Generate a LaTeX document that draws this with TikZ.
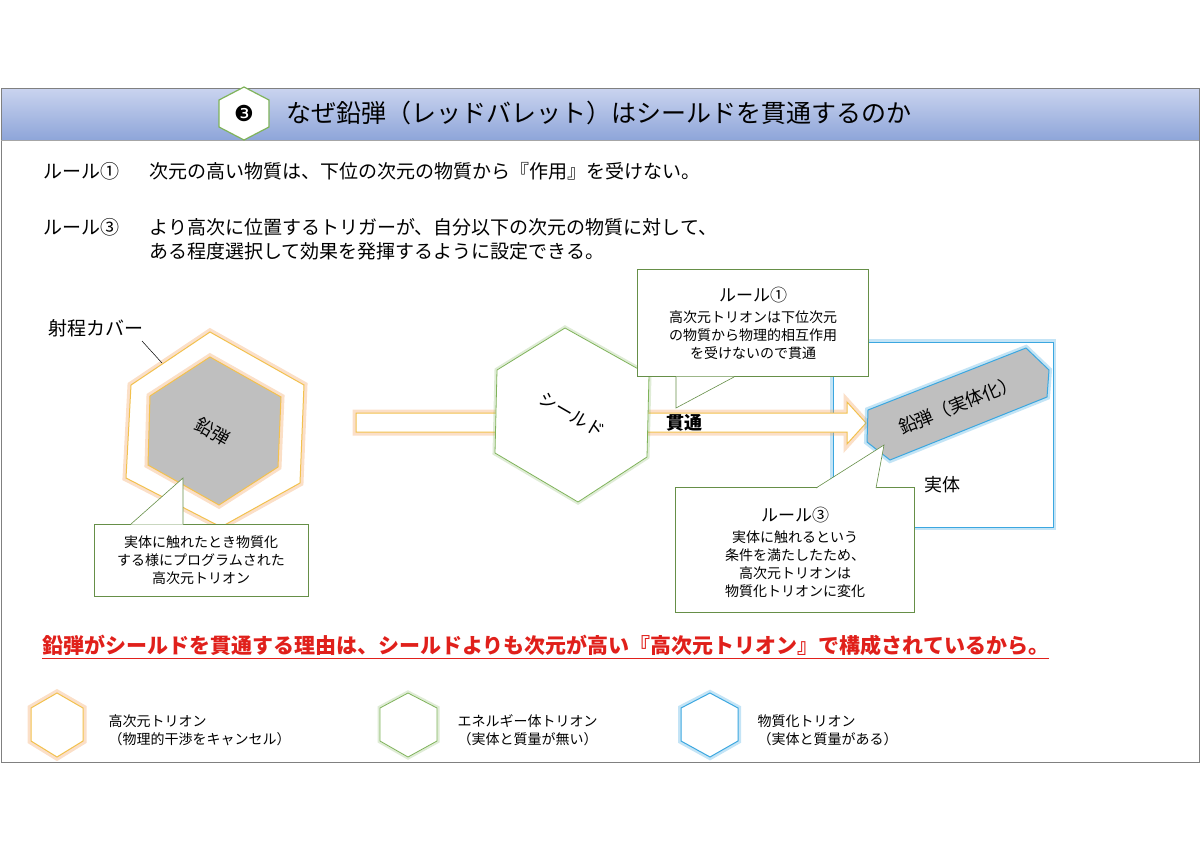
\documentclass[tikz,border=0pt]{standalone}
\usepackage{fontspec}
\setmainfont{Noto Sans CJK JP}
\newfontfamily\dingfont{DejaVu Sans}
\usetikzlibrary{positioning}
\definecolor{hdtop}{HTML}{CAD4EF}
\definecolor{hdbot}{HTML}{8EA5D9}
\definecolor{goldline}{HTML}{F2C14E}
\definecolor{orglow}{HTML}{F4A460}
\definecolor{grline}{HTML}{7FB35A}
\definecolor{blline}{HTML}{3BA7E0}
\definecolor{bulgray}{HTML}{BFBFBF}
\definecolor{redtxt}{HTML}{E0201B}
\newcommand{\fsz}[1]{\fontsize{#1pt}{\numexpr#1*5/4\relax pt}\selectfont}
\tikzset{
  glowO/.style={draw=goldline, line width=1pt, preaction={draw=orglow, line width=7pt, opacity=0.35}},
  glowG/.style={draw=grline, line width=0.8pt, preaction={draw=grline, line width=5pt, opacity=0.25}},
  glowB/.style={draw=blline, line width=1pt, preaction={draw=blline, line width=6pt, opacity=0.3}},
  callout/.style={draw=grline!80!black, line width=0.6pt, fill=white},
  boxtxt/.style={align=center, font=\fsz{14}, inner sep=0pt},
  legtxt/.style={anchor=west, align=left, font=\fsz{14}}
}
\begin{document}
\begin{tikzpicture}[x=1pt,y=-1pt]
\useasboundingbox (0,0) rectangle (1200,849);
% header and frame
\shade[top color=hdtop, bottom color=hdbot] (1,88) rectangle (1199,140);
\draw[gray, line width=1pt] (1,88) rectangle (1199,762);
\draw[gray!70, line width=0.8pt] (1,140) -- (1199,140);
\filldraw[fill=white, draw=grline, line width=1.2pt] (244,87) -- (269,100) -- (269,127) -- (244,140) -- (219,127) -- (219,100) -- cycle;
\node (badge) at (244,113.5) {\dingfont\fsz{22}❸};
\node (title) at (599,113) {\fsz{25}なぜ鉛弾（レッドバレット）はシールドを貫通するのか};

% rules
\node[anchor=west] (r1) at (40,171) {\fsz{19}ルール①};
\node[anchor=west] (r1t) at (146,171) {\fsz{19}次元の高い物質は、下位の次元の物質から『作用』を受けない。};
\node[anchor=west] (r3) at (40,227) {\fsz{19}ルール③};
\node[anchor=west] (r3t) at (146,227) {\fsz{19}より高次に位置するトリガーが、自分以下の次元の物質に対して、};
\node[anchor=west] (r3u) at (146,251) {\fsz{19}ある程度選択して効果を発揮するように設定できる。};

% left bullet
\filldraw[fill=white, glowO] (210,332) -- (304,385) -- (300,483) -- (221,527) -- (126,478) -- (131,385) -- cycle;
\filldraw[fill=bulgray, glowO] (210,357) -- (281,397) -- (278,467) -- (219,505) -- (148,465) -- (150,396) -- cycle;
\node[rotate=-30] (lead) at (213,432) {\fsz{18}鉛弾};
\node (cover) at (96,328) {\fsz{19}射程カバー};
\coordinate (cv) at (162,363);
\draw[black, line width=0.5pt] (142,341) -- (cv);

% entity box, arrow, shield
\draw[glowB, fill=white] (833,342) rectangle (1053,527);
\filldraw[fill=white, glowO] (356,413) -- (847,413) -- (847,402) -- (866,423) -- (847,444) -- (847,432) -- (356,432) -- cycle;
\filldraw[fill=white, glowG] (565,328) -- (649,375) -- (647,457) -- (578,502) -- (495,453) -- (497,370) -- cycle;
\node[rotate=-30] (shield) at (572,415) {\fsz{18}シールド};
\node (pierce) at (684,423) {\fsz{18}\bfseries 貫通};
\filldraw[fill=bulgray, glowB] (868,410) -- (1026,348) -- (1049,370) -- (1047,397) -- (890,460) -- (867,442) -- cycle;
\node[rotate=22] (leadx) at (958,405) {\fsz{18}鉛弾（実体化）};
\node (entity) at (942,485) {\fsz{18}実体};

% callouts
\node[callout, minimum width=214pt, minimum height=72pt] (c1) at (201,560) {};
\coordinate (p1) at (183,478);
\fill[white] (131,524.5) -- (p1) -- (183,524.5) -- cycle;
\draw[callout, fill=none] (131,524) -- (p1) -- (183,524);
\node[boxtxt] at (c1) {実体に触れたとき物質化\\する様にプログラムされた\\高次元トリオン};

\node[callout, minimum width=231pt, minimum height=107pt] (c2) at (753,323) {};
\coordinate (p2) at (676,408);
\fill[white] (676,376.5) -- (p2) -- (734,376.5) -- cycle;
\draw[callout, fill=none] (676,377) -- (p2) -- (734,377);
\node[boxtxt] at (753,323) {{\fsz{17}ルール①}\\[3pt]高次元トリオンは下位次元\\の物質から物理的相互作用\\を受けないので貫通};

\node[callout, minimum width=239pt, minimum height=125pt] (c3) at (795,550) {};
\coordinate (p3) at (884,445);
\fill[white] (816,488.5) -- (p3) -- (876,488.5) -- cycle;
\draw[callout, fill=none] (816,488) -- (p3) -- (876,488);
\node[boxtxt] at (795,552) {{\fsz{17}ルール③}\\[3pt]実体に触れるという\\条件を満たしたため、\\高次元トリオンは\\物質化トリオンに変化};

% conclusion
\node[anchor=west, text=redtxt, inner sep=0pt] (concl) at (42,645) {\fsz{21}\bfseries 鉛弾がシールドを貫通する理由は、シールドよりも次元が高い『高次元トリオン』で構成されているから。};
\draw[redtxt, line width=1.5pt] ([yshift=-3pt]concl.south west) -- ([yshift=-3pt]concl.south east);

% legend
\filldraw[fill=white, glowO] (57,693) -- (83,708) -- (83,741) -- (57,757) -- (31,741) -- (31,708) -- cycle;
\filldraw[fill=white, glowG] (408,693) -- (437,708) -- (437,741) -- (408,757) -- (380,741) -- (380,708) -- cycle;
\filldraw[fill=white, glowB] (710,693) -- (738,708) -- (738,741) -- (710,757) -- (681,741) -- (681,708) -- cycle;
\node[legtxt] (l1) at (105,730) {高次元トリオン\\（物理的干渉をキャンセル）};
\node[legtxt] (l2) at (454,730) {エネルギー体トリオン\\（実体と質量が無い）};
\node[legtxt] (l3) at (754,730) {物質化トリオン\\（実体と質量がある）};
\end{tikzpicture}
\end{document}
